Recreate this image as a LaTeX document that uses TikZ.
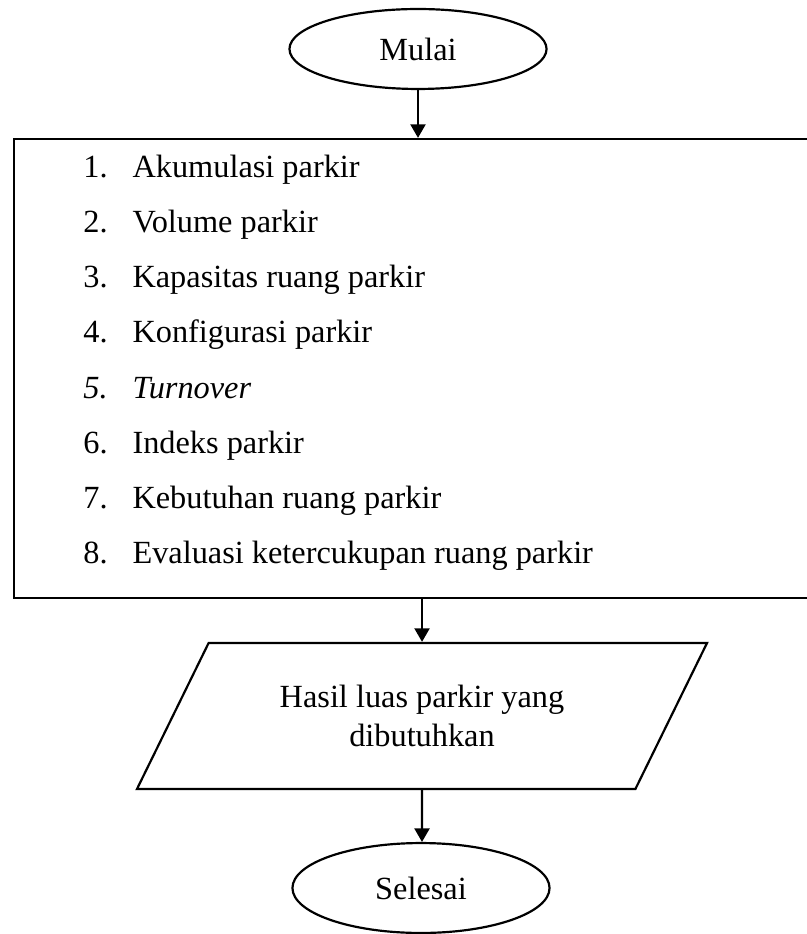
\documentclass[tikz,border=0pt]{standalone}
\usepackage{fontspec}
\setmainfont{Liberation Serif}
\usetikzlibrary{shapes.geometric, arrows.meta}
\newcommand{\nomor}[1]{\makebox[20.2pt][l]{#1}}

\begin{document}
\begin{tikzpicture}[x=0.4115pt, y=-0.4115pt, font=\fontsize{13.3}{15.8}\selectfont,
  garis/.style={line width=0.9pt},
  panah/.style={garis, -{Triangle[length=5.6pt, width=6.2pt]}},
  terminal/.style={garis, draw, ellipse, minimum width=105.8pt, inner sep=0pt},
  kotak/.style={garis, draw, rectangle, minimum width=335.8pt, minimum height=188.9pt},
  jajar/.style={garis, draw, trapezium, trapezium left angle=52, trapezium right angle=128,
    trapezium stretches=true, minimum width=234.6pt, minimum height=60.1pt, align=center, inner sep=0pt},
  butir/.style={anchor=base west, inner sep=0pt}]
\useasboundingbox (0,0) rectangle (806,934);
\node[terminal, minimum height=32.9pt] (mulai) at (418,49) {Mulai};
\node[kotak] (langkah) at (422,368.5) {};
% daftar langkah analisis
\node[butir] (b1) at (83,178) {\nomor{1.}Akumulasi parkir};
\node[butir] (b2) at (83,233) {\nomor{2.}Volume parkir};
\node[butir] (b3) at (83,288) {\nomor{3.}Kapasitas ruang parkir};
\node[butir] (b4) at (83,343) {\nomor{4.}Konfigurasi parkir};
\node[butir] (b5) at (83,398) {\itshape\nomor{5.}Turnover};
\node[butir] (b6) at (83,453) {\nomor{6.}Indeks parkir};
\node[butir] (b7) at (83,508) {\nomor{7.}Kebutuhan ruang parkir};
\node[butir] (b8) at (83,563) {\nomor{8.}Evaluasi ketercukupan ruang parkir};
\node[jajar] (hasil) at (422,716) {Hasil luas parkir yang\\dibutuhkan};
\node[terminal, minimum height=37pt] (selesai) at (421,888) {Selesai};
% panah
\draw[panah] (mulai) -- (mulai |- langkah.north);
\draw[panah] (langkah.south -| hasil.north) -- (hasil.north);
\draw[panah] (hasil) -- (hasil |- selesai.north);
\end{tikzpicture}
\end{document}
